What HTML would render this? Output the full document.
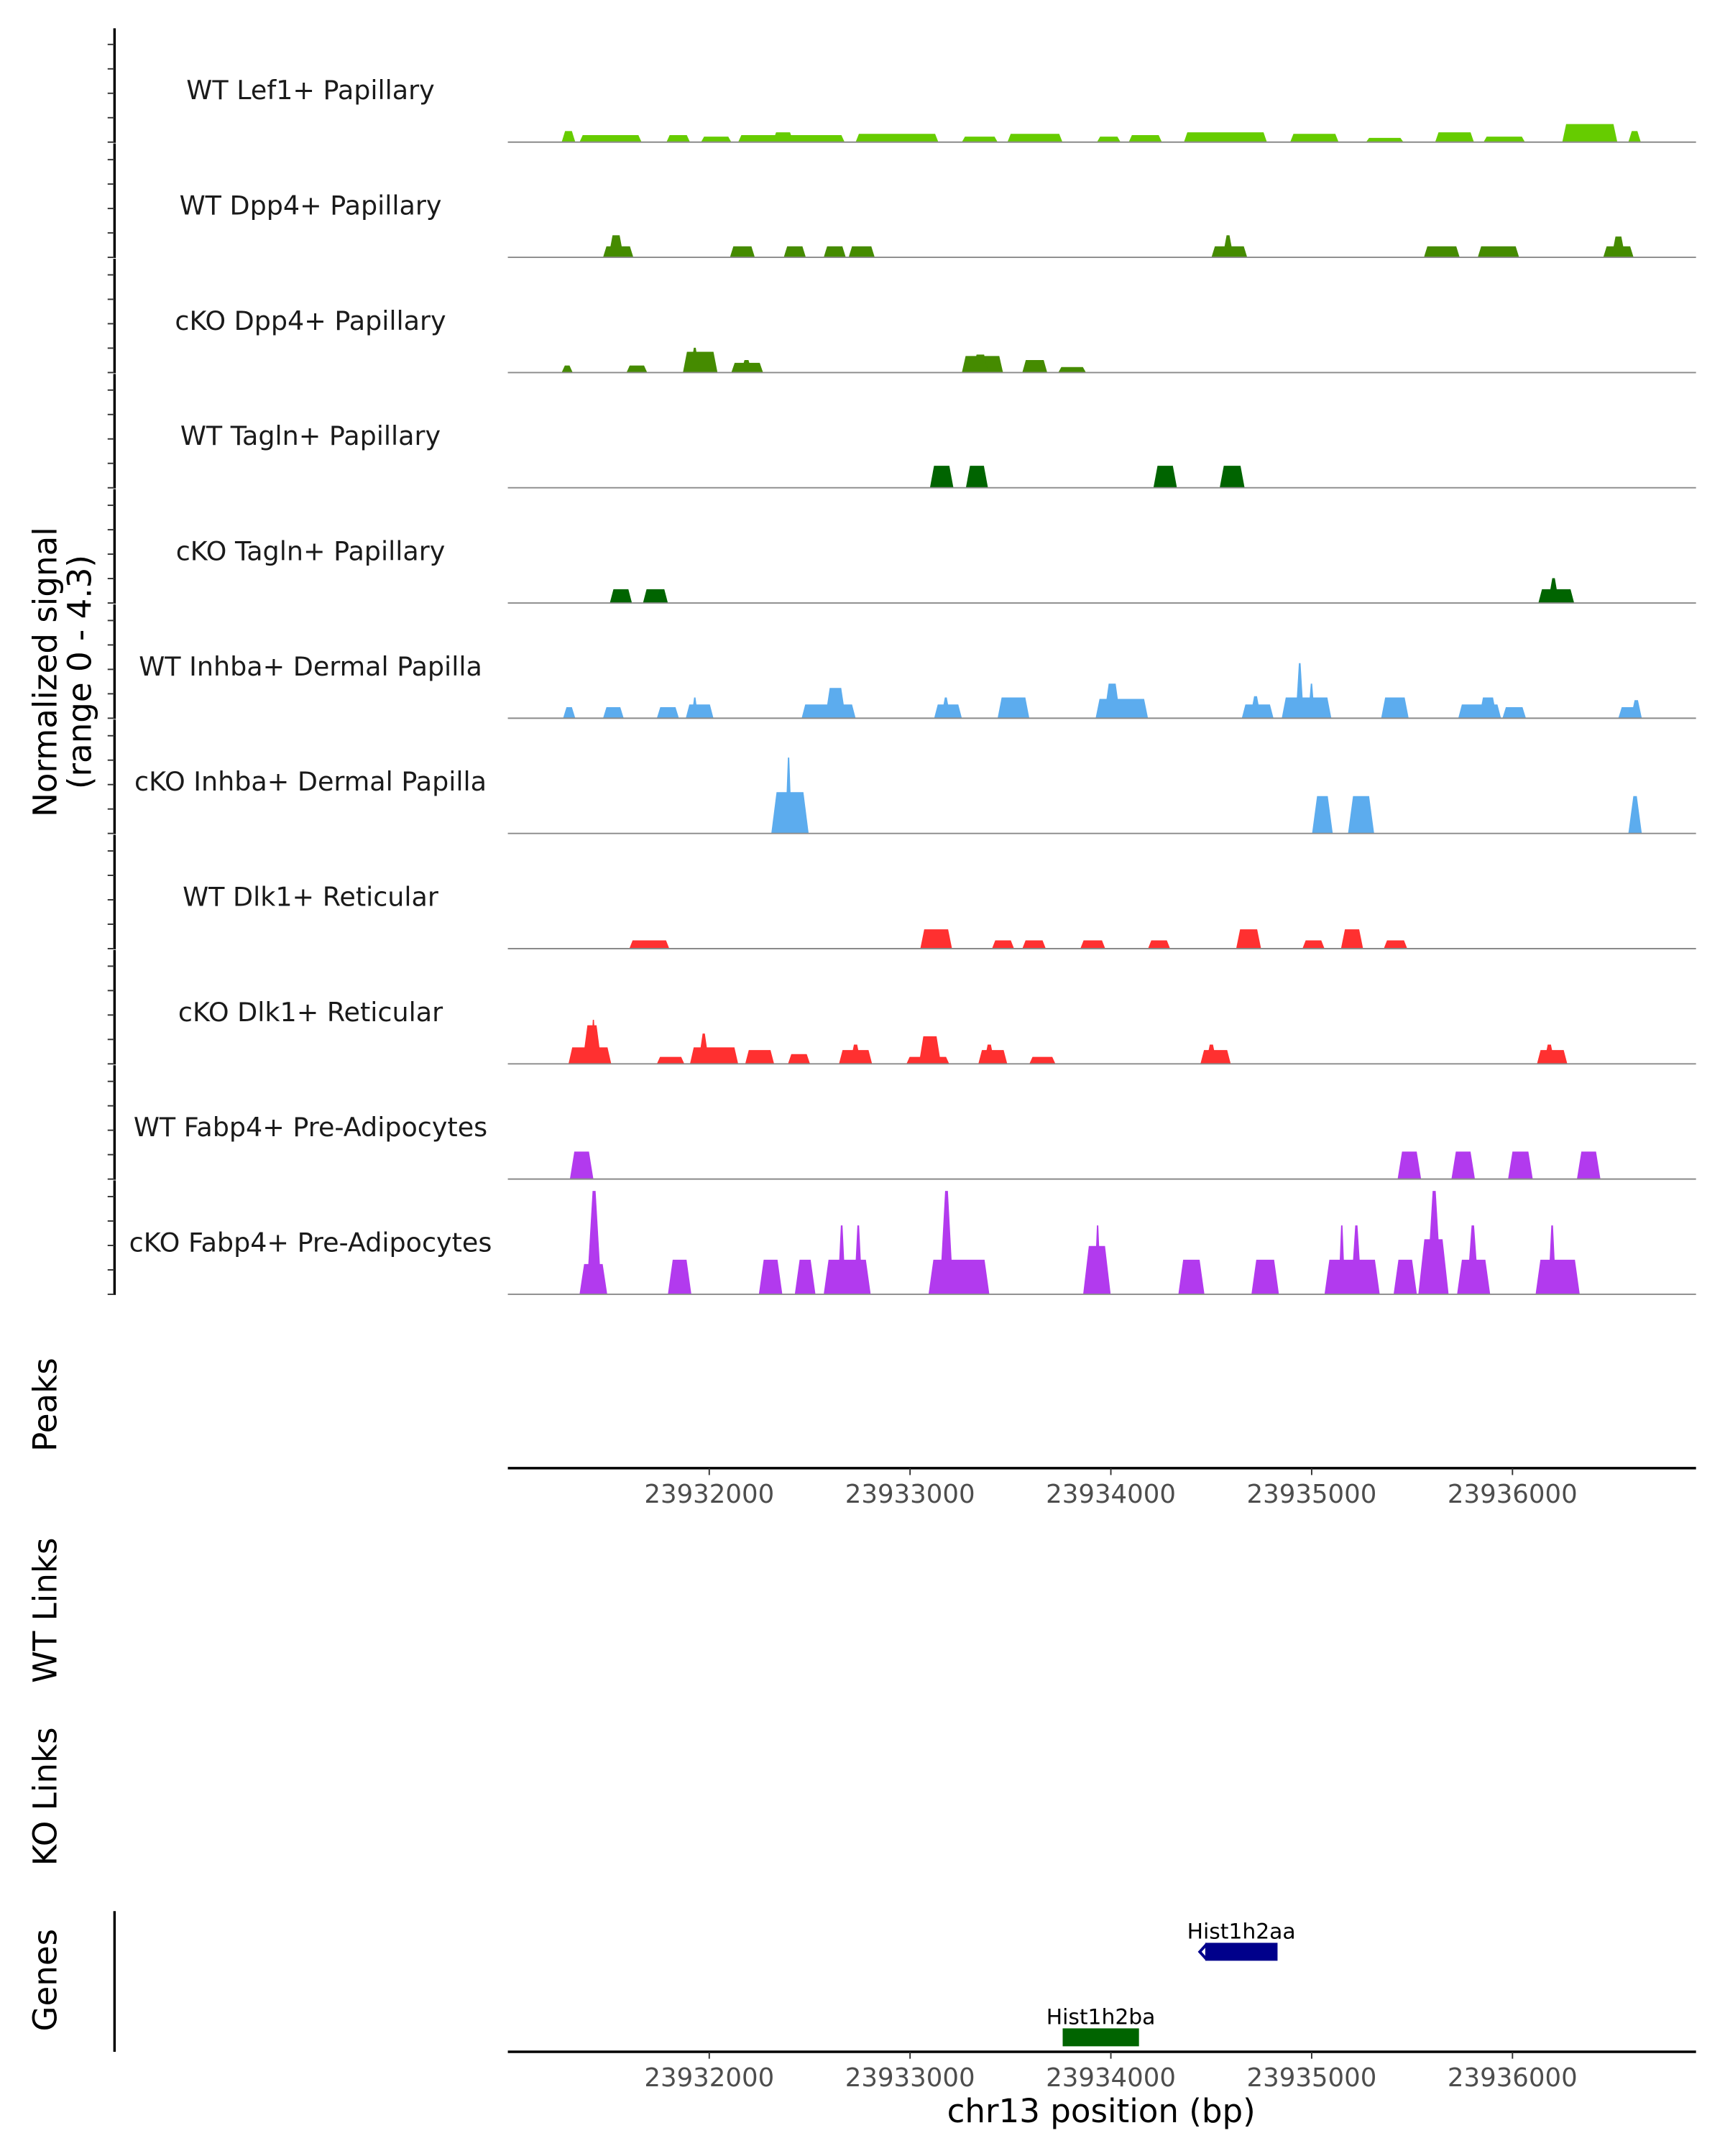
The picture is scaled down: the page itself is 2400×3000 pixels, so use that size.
<!DOCTYPE html>
<html><head><meta charset="utf-8"><style>
html,body{margin:0;padding:0;background:#fff;}
svg{display:block;font-family:"DejaVu Sans","Liberation Sans",sans-serif;}
</style></head><body>
<svg id="chart" width="2400" height="3000" viewBox="0 0 1250 1562.5" xmlns="http://www.w3.org/2000/svg">
<g id="axes"></g>
<g id="tracks"></g>
<g id="genes"></g>
<text transform="translate(41,487) rotate(-90)" text-anchor="middle" font-size="23.5" fill="#000">Normalized signal</text>
<text transform="translate(66,487) rotate(-90)" text-anchor="middle" font-size="23.5" fill="#000">(range 0 - 4.3)</text>
<text transform="translate(41,1018) rotate(-90)" text-anchor="middle" font-size="23.5" fill="#000">Peaks</text>
<text transform="translate(41,1167) rotate(-90)" text-anchor="middle" font-size="23.5" fill="#000">WT Links</text>
<text transform="translate(41,1302) rotate(-90)" text-anchor="middle" font-size="23.5" fill="#000">KO Links</text>
<text transform="translate(41,1435) rotate(-90)" text-anchor="middle" font-size="23.5" fill="#000">Genes</text>
<text x="798" y="1538" text-anchor="middle" font-size="23.5" fill="#000">chr13 position (bp)</text>
</svg>
<script>
const xTicks = [23932000, 23933000, 23934000, 23935000, 23936000];
const xTickLabels = ["23932000", "23933000", "23934000", "23935000", "23936000"];
const trackNames = ["WT Lef1+ Papillary","WT Dpp4+ Papillary","cKO Dpp4+ Papillary","WT Tagln+ Papillary","cKO Tagln+ Papillary","WT Inhba+ Dermal Papilla","cKO Inhba+ Dermal Papilla","WT Dlk1+ Reticular","cKO Dlk1+ Reticular","WT Fabp4+ Pre-Adipocytes","cKO Fabp4+ Pre-Adipocytes"];
const trackColors = ["#66CC00","#458B00","#458B00","#006400","#006400","#5CACEE","#5CACEE","#FF3030","#FF3030","#B23AEE","#B23AEE"];
const yMax = 4.3;
// [start bp, end bp, normalized signal]
const wtLef1 = [[23931265,23931333,0.44],[23931354,23931663,0.28],[23931787,23931904,0.28],[23931959,23932110,0.22],[23932144,23932674,0.28],[23932316,23932419,0.39],[23932729,23933141,0.33],[23933258,23933436,0.22],[23933485,23933759,0.33],[23933931,23934048,0.22],[23934089,23934254,0.28],[23934364,23934777,0.39],[23934893,23935134,0.33],[23935271,23935457,0.17],[23935615,23935808,0.39],[23935856,23936062,0.22],[23936248,23936522,0.72],[23936577,23936639,0.44]];
const wtDpp4 = [[23931471,23931622,0.44],[23931498,23931574,0.88],[23932103,23932227,0.44],[23932371,23932481,0.44],[23932570,23932680,0.44],[23932694,23932824,0.44],[23934501,23934679,0.44],[23934556,23934611,0.88],[23935559,23935737,0.44],[23935827,23936033,0.44],[23936452,23936603,0.44],[23936493,23936562,0.83]];
const koDpp4 = [[23931265,23931320,0.28],[23931588,23931691,0.28],[23931869,23932041,0.83],[23931904,23931952,0.99],[23932110,23932268,0.39],[23932158,23932213,0.5],[23933258,23933463,0.66],[23933312,23933388,0.72],[23933559,23933683,0.5],[23933738,23933876,0.22]];
const wtTagln = [[23933099,23933216,0.88],[23933278,23933388,0.88],[23934212,23934329,0.88],[23934542,23934666,0.88]];
const koTagln = [[23931505,23931615,0.55],[23931670,23931794,0.55],[23936129,23936307,0.55],[23936177,23936232,0.99]];
const wtInhba = [[23931272,23931333,0.44],[23931471,23931574,0.44],[23931739,23931849,0.44],[23931883,23932021,0.55],[23931911,23931945,0.83],[23932460,23932729,0.55],[23932577,23932680,1.21],[23933120,23933258,0.55],[23933154,23933202,0.83],[23933436,23933594,0.83],[23933924,23934185,0.77],[23933965,23934048,1.38],[23934652,23934810,0.55],[23934693,23934748,0.88],[23934851,23935098,0.83],[23934920,23934961,2.2],[23934982,23935016,1.38],[23935346,23935483,0.83],[23935730,23935943,0.55],[23935833,23935923,0.83],[23935950,23936067,0.44],[23936527,23936644,0.44],[23936589,23936644,0.72]];
const koInhba = [[23932309,23932495,1.65],[23932378,23932412,3.03],[23935002,23935105,1.49],[23935181,23935311,1.49],[23936577,23936644,1.49]];
const wtDlk1 = [[23931602,23931801,0.33],[23933051,23933209,0.77],[23933408,23933518,0.33],[23933559,23933676,0.33],[23933848,23933972,0.33],[23934185,23934295,0.33],[23934624,23934748,0.77],[23934954,23935064,0.33],[23935146,23935256,0.77],[23935359,23935476,0.33]];
const koDlk1 = [[23931299,23931512,0.66],[23931368,23931464,1.54],[23931409,23931437,1.76],[23931739,23931876,0.28],[23931904,23932144,0.66],[23931945,23932000,1.21],[23932179,23932323,0.55],[23932392,23932502,0.39],[23932646,23932811,0.55],[23932701,23932756,0.77],[23932982,23933195,0.28],[23933044,23933154,1.1],[23933340,23933484,0.55],[23933367,23933422,0.77],[23933594,23933724,0.28],[23934446,23934597,0.55],[23934473,23934528,0.77],[23936122,23936273,0.55],[23936156,23936211,0.77]];
const wtFabp4 = [[23931306,23931423,1.1],[23935428,23935545,1.1],[23935696,23935813,1.1],[23935978,23936101,1.1],[23936321,23936438,1.1]];
const koFabp4 = [[23931354,23931492,1.21],[23931389,23931464,4.13],[23931794,23931911,1.38],[23932247,23932364,1.38],[23932426,23932529,1.38],[23932570,23932804,1.38],[23932639,23932680,2.75],[23932721,23932763,2.75],[23933092,23933395,1.38],[23933147,23933216,4.13],[23933862,23933999,1.93],[23933917,23933951,2.75],[23934336,23934466,1.38],[23934700,23934837,1.38],[23935064,23935339,1.38],[23935133,23935167,2.75],[23935195,23935250,2.75],[23935408,23935524,1.38],[23935531,23935682,2.2],[23935572,23935648,4.13],[23935724,23935889,1.38],[23935772,23935833,2.75],[23936115,23936335,1.38],[23936177,23936218,2.75]];
const trackData = [wtLef1, wtDpp4, koDpp4, wtTagln, koTagln, wtInhba, koInhba, wtDlk1, koDlk1, wtFabp4, koFabp4];
const geneNames = ["Hist1h2aa", "Hist1h2ba"];
const geneStarts = [23934470, 23933760];
const geneEnds = [23934830, 23934140];
const geneColors = ["#00008B", "#006400"];

const NS = "http://www.w3.org/2000/svg";
const X0 = 368, X1 = 1229, BP0 = 23930997, BP1 = 23936914;
const xScale = bp => X0 + (bp - BP0) / (BP1 - BP0) * (X1 - X0);
const trackTop = 19.5, trackH = 83.5, plotH = 78;
const baseline = i => trackTop + trackH * (i + 1);
const yScale = (v, i) => baseline(i) - v / yMax * plotH;
function mk(tag, attrs, parent) { const e = document.createElementNS(NS, tag); for (const k in attrs) e.setAttribute(k, attrs[k]); parent.appendChild(e); return e; }

const axes = document.getElementById('axes');
const tracks = document.getElementById('tracks');
const genes = document.getElementById('genes');

for (let i = 0; i < trackNames.length; i++) {
  const b = baseline(i);
  const seg = mk('line', {x1: 83, x2: 83, y1: b - trackH + 1, y2: b + 0.5, stroke: '#000', 'stroke-width': 1.8}, axes);
  
  
  for (let k = 0; k < 5; k++) {
    const ty = b - k * 17.7;
    const t = mk('line', {x1: 78, x2: 83, y1: ty, y2: ty, stroke: '#333', 'stroke-width': 1}, axes);
    
    
  }
}
const ga = mk('line', {x1: 83, x2: 83, y1: 1385, y2: 1487, stroke: '#000', 'stroke-width': 1.8}, axes);



[1064, 1487].forEach((ay, j) => {
  const l = mk('line', {x1: X0, x2: X1, y1: ay, y2: ay, stroke: '#000', 'stroke-width': 1.8}, axes);
  
  
  xTicks.forEach((v, k) => {
    const x = xScale(v);
    const t = mk('line', {x1: x, x2: x, y1: ay, y2: ay + 5, stroke: '#333', 'stroke-width': 1}, axes);
    
    
    const tl = mk('text', {x: x, y: ay + 25, 'text-anchor': 'middle', 'font-size': 18.5, fill: '#4d4d4d'}, axes);
    
    
    tl.textContent = xTickLabels[k];
  });
});

trackData.forEach((blocks, i) => {
  const b = baseline(i);
  const g = mk('g', {}, tracks);
  
  
  const lab = mk('text', {x: 225, y: b - 31, 'text-anchor': 'middle', 'font-size': 19, fill: '#1a1a1a'}, g);
  
  
  lab.textContent = trackNames[i];
  blocks.forEach(bl => {
    const xs = xScale(bl[0]), xe = xScale(bl[1]), y = yScale(bl[2], i);
    const hpx = b - y;
    const r = Math.min((xe - xs) * 0.4, 2 + hpx * 0.06);
    const p = mk('polygon', {points: `${xs},${b} ${xs + r},${y} ${xe - r},${y} ${xe},${b}`, fill: trackColors[i]}, g);
    
    
  });
  const bl = mk('line', {x1: X0, x2: X1, y1: b, y2: b, stroke: '#8a8a8a', 'stroke-width': 1}, g);
  
  
});

const geneY = [1408, 1470];
geneNames.forEach((n, i) => {
  const xs = xScale(geneStarts[i]), xe = xScale(geneEnds[i]);
  const r = mk('rect', {x: xs, y: geneY[i], width: xe - xs, height: 13, fill: geneColors[i]}, genes);
  
  
  const t = mk('text', {x: (xs + xe) / 2, y: geneY[i] - 3, 'text-anchor': 'middle', 'font-size': 15.5, fill: '#000'}, genes);
  
  
  t.textContent = n;
  if (i === 0) {
    const a = mk('polyline', {points: `${xs + 1},${geneY[i] + 1} ${xs - 4},${geneY[i] + 6.5} ${xs + 1},${geneY[i] + 12}`, fill: 'none', stroke: geneColors[i], 'stroke-width': 2}, genes);
    
    
  }
});
</script>
</body></html>
